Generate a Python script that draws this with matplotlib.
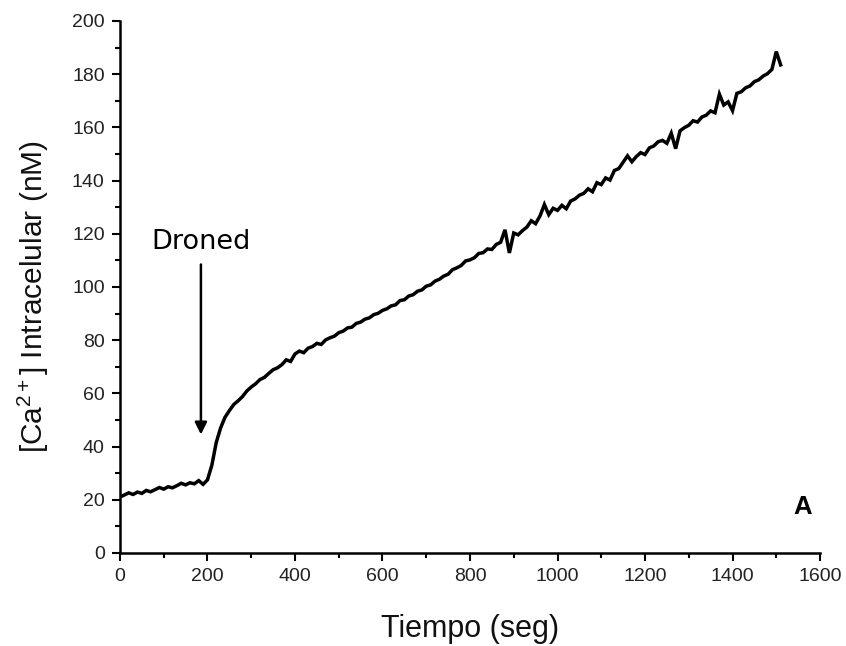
import numpy as np
import matplotlib
matplotlib.use("Agg")
from matplotlib import pyplot as plt
from matplotlib.ticker import MultipleLocator

plt.rcParams['font.family'] = ['Liberation Sans', 'DejaVu Sans']
plt.rcParams['mathtext.fontset'] = 'custom'
plt.rcParams['mathtext.rm'] = 'Liberation Sans'
plt.rcParams['mathtext.it'] = 'Liberation Sans'

# tiempo de muestreo cada 10 s
tiempo = np.arange(0, 1520, 10)
# [Ca2+]
calcio = [
    21.0, 21.8, 22.6, 22.0, 22.9, 22.4, 23.5, 23.0, 23.8, 24.6,
    24.0, 24.9, 24.5, 25.3, 26.2, 25.6, 26.4, 26.0, 27.2, 25.8,
    27.5, 33.0, 41.5, 47.0, 51.0, 53.5, 55.8, 57.2, 58.8, 60.9,
    62.4, 63.6, 65.2, 66.0, 67.5, 68.9, 69.6, 70.8, 72.6, 72.0,
    74.8, 75.9, 75.3, 77.0, 77.6, 78.8, 78.4, 80.1, 80.9, 81.5,
    82.8, 83.4, 84.6, 84.9, 86.3, 86.8, 87.9, 88.4, 89.6, 90.1,
    91.2, 91.8, 92.9, 93.3, 94.9, 95.2, 96.6, 97.1, 98.4, 98.9,
    100.3, 100.8, 102.2, 102.9, 104.1, 104.8, 106.5, 107.2, 108.1, 109.8,
    110.2, 111.0, 112.6, 112.9, 114.3, 114.1, 116.0, 116.8, 121.5, 112.8,
    120.3, 119.6, 121.2, 122.5, 124.9, 123.8, 126.7, 131.0, 127.2, 129.6,
    128.8, 130.7, 129.4, 132.3, 133.1, 134.5, 135.2, 136.9, 135.8, 139.2,
    138.5, 141.0, 140.2, 143.8, 144.5, 146.9, 149.3, 147.1, 149.0, 150.5,
    149.8, 152.3, 153.0, 154.6, 155.1, 154.0, 157.8, 152.0, 158.7, 159.9,
    160.8, 162.5, 162.0, 163.9, 164.6, 166.2, 165.5, 172.5, 168.4, 169.6,
    166.3, 172.8, 173.4, 174.9, 175.6, 177.2, 177.9, 179.3, 180.2, 181.8,
    188.5, 183.5,
]

fig = plt.figure(figsize=(8.46, 6.46), dpi=100)
ax = fig.add_axes([0.1418, 0.144, 0.8275, 0.8235])

ax.plot(tiempo, calcio, color='black', lw=2.5, solid_joinstyle='miter')

ax.set_xlim(0, 1600)
ax.set_ylim(0, 200)
ax.xaxis.set_major_locator(MultipleLocator(200))
ax.xaxis.set_minor_locator(MultipleLocator(100))
ax.yaxis.set_major_locator(MultipleLocator(20))
ax.yaxis.set_minor_locator(MultipleLocator(10))

ax.spines['top'].set_visible(False)
ax.spines['right'].set_visible(False)
ax.spines['left'].set_linewidth(1.8)
ax.spines['bottom'].set_linewidth(1.8)
ax.tick_params(which='major', direction='out', length=6, width=1.5, labelsize=14, colors='black', labelcolor='#222222', pad=5)
ax.tick_params(which='minor', direction='out', length=3.5, width=1.5)

ax.set_xlabel('Tiempo (seg)', fontsize=22, color='#111111')
ax.set_ylabel(r'[Ca$^{\mathregular{2+}}$] Intracelular (nM)', fontsize=21.5, color='#111111')
ax.xaxis.set_label_coords(0.5, -0.114)
ax.yaxis.set_label_coords(-0.098, 0.482)

ax.annotate('', xy=(185, 43.5), xytext=(185, 109.5),
            arrowprops=dict(arrowstyle='-|>', color='black', lw=1.8, mutation_scale=18))
ax.text(185, 117, 'Droned', fontsize=19.5, family='DejaVu Sans', ha='center', va='center')
ax.text(1561, 17.3, 'A', fontsize=18.5, fontweight='bold', ha='center', va='center')

fig.savefig('out.png', dpi=100, facecolor='white')
